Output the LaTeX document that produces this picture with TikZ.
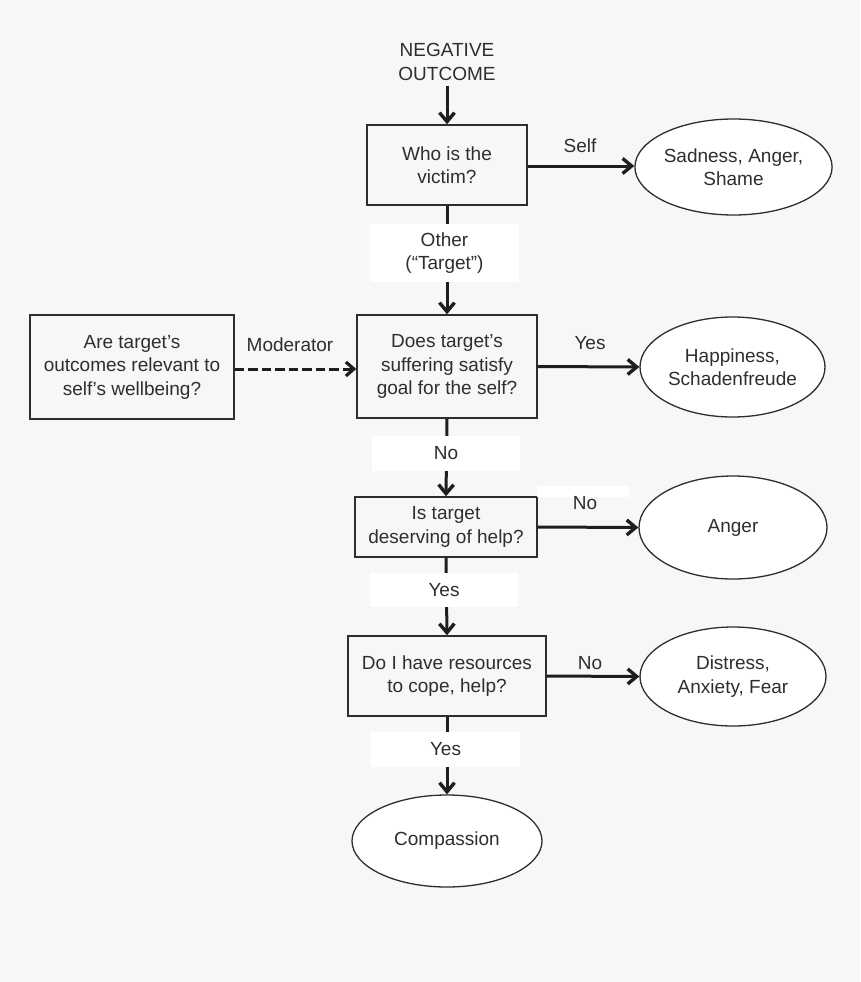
\documentclass[tikz,border=0pt]{standalone}
\usepackage{fontspec}
\setmainfont{Liberation Sans}
\usetikzlibrary{arrows.meta,shapes.geometric}
\definecolor{bg}{HTML}{F7F7F7}
\definecolor{ink}{HTML}{2E2E2E}
\definecolor{wire}{HTML}{1E1E1E}
\tikzset{
  every node/.style={text=ink, font=\fontsize{19}{23.5}\selectfont, align=center},
  qbox/.style={draw=ink, line width=1.4pt, fill=bg, inner sep=0pt},
  emo/.style={ellipse, draw=ink, line width=1.3pt, fill=white, inner sep=0pt},
  arr/.style={draw=wire, line width=3pt, -{Straight Barb[length=9pt,width=15pt,line width=3.4pt]}},
  modarr/.style={draw=wire, line width=3pt, dash pattern=on 9.5pt off 4pt, -{Straight Barb[length=8pt,width=14pt,line width=3.2pt]}},
  lab/.style={fill=white, inner sep=0pt},
}
\begin{document}
\begin{tikzpicture}[x=1pt,y=-1pt]
\path[fill=bg] (0,0) rectangle (860,982);
\useasboundingbox (0,0) rectangle (860,982);

% question boxes
\node[qbox, minimum width=160pt, minimum height=80pt] (b1) at (447,165) {Who is the\\victim?};
\node[qbox, minimum width=180pt, minimum height=103pt] (b2) at (447,366.5) {Does target’s\\suffering satisfy\\goal for the self?};
\node[qbox, minimum width=204pt, minimum height=104pt] (mod) at (132,367) {Are target’s\\outcomes relevant to\\self’s wellbeing?};
\node[qbox, minimum width=182pt, minimum height=60pt] (b3) at (446,527) {Is target\\deserving of help?};
\node[qbox, minimum width=198pt, minimum height=80pt] (b4) at (447,676) {Do I have resources\\to cope, help?};

% emotion ellipses
\node[emo, minimum width=187pt, minimum height=96pt] (e1) at (733.5,167) {Sadness, Anger,\\Shame};
\node[emo, minimum width=185pt, minimum height=100pt] (e2) at (732.5,367) {Happiness,\\Schadenfreude};
\node[emo, minimum width=188pt, minimum height=103pt] (e3) at (733,527.5) {Anger};
\node[emo, minimum width=186pt, minimum height=99pt] (e4) at (733,676.5) {Distress,\\Anxiety, Fear};
\node[emo, minimum width=190pt, minimum height=92pt] (e5) at (447,841) {Compassion};

% start text
\node[inner sep=0pt] (neg) at (447,62) {NEGATIVE\\OUTCOME};

% connectors
\draw[arr, shorten <=5pt] (neg) -- (b1);
\draw[arr] (b1.south) -- (b2.north);
\draw[arr] (b2.south) -- (b3.north);
\draw[arr] (b3.south) -- (b4.north);
\draw[arr] (b4.south) -- (e5.north);
\draw[arr] (b1.east |- e1.west) ++(0,-1) coordinate (s1) -- (s1 -| e1.west);
\draw[arr] (b2.east) -- (e2.west);
\draw[arr] (b3.east) -- (e3.west);
\draw[arr] (b4.east) -- (e4.west);
\draw[modarr] (mod.east) ++(0,2) coordinate (m1) -- (m1 -| b2.west);

% white label patches on the vertical connectors
\node[lab, minimum width=149pt, minimum height=58pt] (lother) at (444.5,253) {Other\\(“Target”)};
\node[lab, minimum width=148pt, minimum height=35pt] (lno1) at (446,453.5) {No};
\node[lab, minimum width=148pt, minimum height=34pt] (lyes1) at (444,590) {Yes};
\node[lab, minimum width=149pt, minimum height=35pt] (lyes2) at (445.5,749.5) {Yes};
\node[lab, minimum width=92pt, minimum height=11pt] (strip) at (583,491.5) {};

% side labels
\node (lself) at (580,146) {Self};
\node (lyes0) at (590,343) {Yes};
\node (lno2) at (585,503) {No};
\node (lno3) at (590,663) {No};
\node (lmod) at (290,345) {Moderator};
\end{tikzpicture}
\end{document}
